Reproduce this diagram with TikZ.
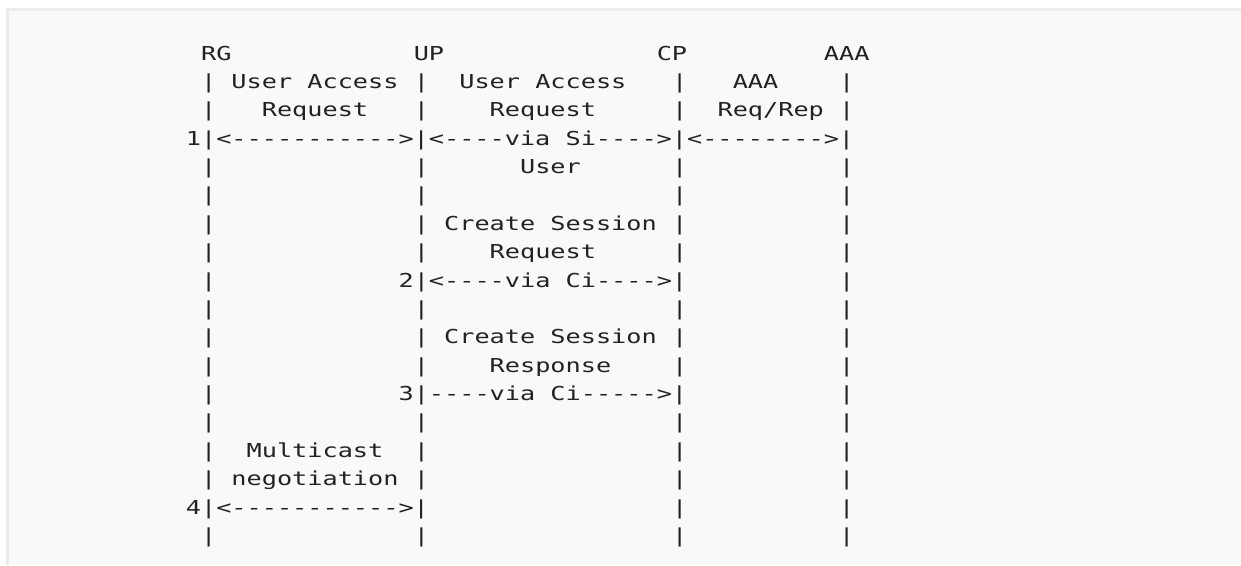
\documentclass[tikz,border=0pt]{standalone}
\usepackage{fontspec}
\newfontfamily\asciifont[FakeStretch=1.314,Ligatures=TeXOff,WordSpace={1,0,0}]{DejaVu Sans Mono}
\definecolor{pagebg}{HTML}{F9F9F9}
\definecolor{frameline}{HTML}{ECECEC}
\definecolor{ink}{HTML}{222222}
% segment of text starting at character column #1 on text row #2
\newcommand\seg[3]{\node[asciiline] (r#2c#1) at ({201.1+15.19*#1},{-60-28.375*#2}) {#3};}
\newcommand\pipes[2]{\foreach \k in {#2} {\seg{\k}{#1}{|}}}
\begin{document}
\begin{tikzpicture}[x=1pt,y=1pt,
  asciiline/.style={anchor=base west, inner sep=0pt, outer sep=0pt, text=ink,
    font=\asciifont\fontsize{19.2}{22}\selectfont}]
\useasboundingbox (0,0) rectangle (1241,-565);
\fill[white] (0,0) rectangle (1241,-565);
\fill[pagebg] (7.5,-9.5) rectangle (1241,-565);
\draw[frameline, line width=2.8pt] (7.5,-565) -- (7.5,-9.5) -- (1241,-9.5);
% row 0
\seg{0}{0}{RG}\seg{14}{0}{UP}\seg{30}{0}{CP}\seg{41}{0}{AAA}
% row 1
\pipes{1}{0,14,31,42}
\seg{2}{1}{User Access}\seg{17}{1}{User Access}\seg{35}{1}{AAA}
% row 2
\pipes{2}{0,14,31,42}
\seg{4}{2}{Request}\seg{19}{2}{Request}\seg{34}{2}{Req/Rep}
% row 3
\seg{-1}{3}{1|<----------->|<----via Si---->|<-------->|}
% row 4
\pipes{4}{0,14,31,42}\seg{21}{4}{User}
% row 5
\pipes{5}{0,14,31,42}
% row 6
\pipes{6}{0,14,31,42}\seg{16}{6}{Create Session}
% row 7
\pipes{7}{0,14,31,42}\seg{19}{7}{Request}
% row 8
\pipes{8}{0,42}\seg{13}{8}{2|<----via Ci---->|}
% row 9
\pipes{9}{0,14,31,42}
% row 10
\pipes{10}{0,14,31,42}\seg{16}{10}{Create Session}
% row 11
\pipes{11}{0,14,31,42}\seg{19}{11}{Response}
% row 12
\pipes{12}{0,42}\seg{13}{12}{3|----via Ci----->|}
% row 13
\pipes{13}{0,14,31,42}
% row 14
\pipes{14}{0,14,31,42}\seg{3}{14}{Multicast}
% row 15
\pipes{15}{0,14,31,42}\seg{2}{15}{negotiation}
% row 16
\seg{-1}{16}{4|<----------->|}\pipes{16}{31,42}
% row 17
\pipes{17}{0,14,31,42}
\end{tikzpicture}
\end{document}
